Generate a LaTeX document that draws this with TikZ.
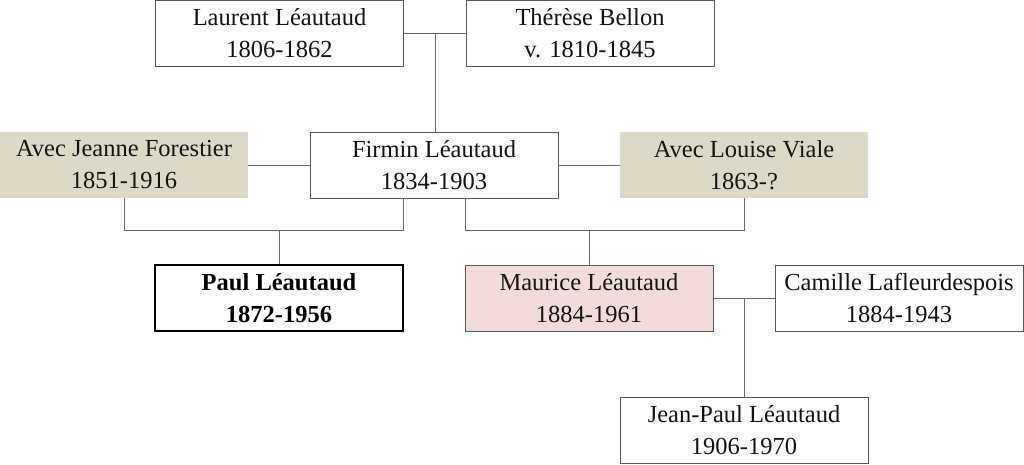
\documentclass[tikz,border=0pt]{standalone}
\usepackage{fontspec}
\setmainfont{Liberation Serif}
\definecolor{beige}{HTML}{DDD9C9}
\definecolor{rose}{HTML}{F2DCDB}
\definecolor{edge}{HTML}{5A5A5A}
\definecolor{wire}{HTML}{6A6A6A}
\begin{document}
\begin{tikzpicture}[x=1pt,y=1pt,
  person/.style={rectangle, draw=edge, line width=0.9pt, fill=white,
    minimum width=248pt, minimum height=66pt, inner sep=0pt, align=center,
    font=\fontsize{24.5}{32}\selectfont, text=black!92},
  partner/.style={person, draw=none, fill=beige},
  main/.style={person, draw=black, line width=1.8pt, font=\fontsize{24.5}{32}\selectfont\bfseries, text=black},
  son/.style={person, fill=rose},
  wire/.style={draw=wire, line width=0.9pt}]
\useasboundingbox (0,0) rectangle (1024,-464);
\node[person] (laurent) at (279.5,-33) {Laurent Léautaud\\1806-1862};
\node[person] (therese) at (590,-33) {Thérèse Bellon\\v. 1810-1845};
\node[partner] (jeanne) at (124,-165) {Avec Jeanne Forestier\\1851-1916};
\node[person] (firmin) at (434,-165) {Firmin Léautaud\\1834-1903};
\node[partner] (louise) at (744,-165) {Avec Louise Viale\\1863-?};
\node[main] (paul) at (279,-298) {Paul Léautaud\\1872-1956};
\node[son] (maurice) at (589,-298) {Maurice Léautaud\\1884-1961};
\node[person] (camille) at (899,-298) {Camille Lafleurdespois\\1884-1943};
\node[person] (jeanpaul) at (744,-430) {Jean-Paul Léautaud\\1906-1970};
\coordinate (m1) at (435,-33);
\coordinate (j1) at (124,-230);
\coordinate (f1) at (403,-230);
\coordinate (p1) at (279,-230);
\coordinate (f2) at (465,-230);
\coordinate (l2) at (744,-230);
\coordinate (p2) at (589,-230);
\coordinate (m3) at (744,-298);
\draw[wire] (laurent.east) -- (therese.west);
\draw[wire] (m1) -- (firmin.north -| m1);
\draw[wire] (jeanne.east) -- (firmin.west);
\draw[wire] (firmin.east) -- (louise.west);
\draw[wire] (jeanne.south) -- (j1) -- (f1) -- (firmin.south -| f1);
\draw[wire] (p1) -- (paul.north);
\draw[wire] (firmin.south -| f2) -- (f2) -- (l2) -- (louise.south);
\draw[wire] (p2) -- (maurice.north);
\draw[wire] (maurice.east) -- (camille.west);
\draw[wire] (m3) -- (jeanpaul.north);
\end{tikzpicture}
\end{document}
